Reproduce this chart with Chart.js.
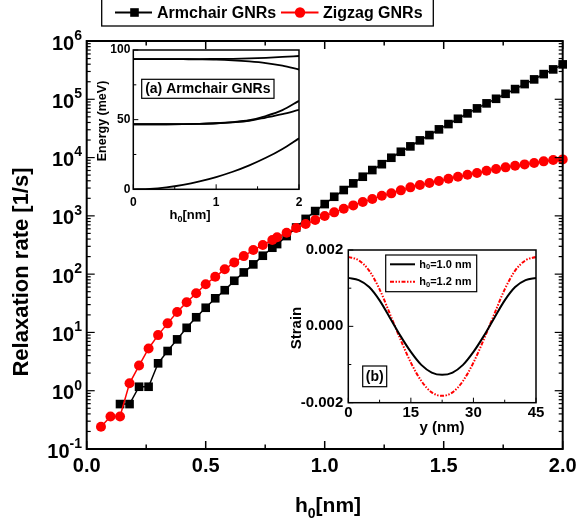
<!DOCTYPE html>
<html><head><meta charset="utf-8">
<script src="https://cdn.jsdelivr.net/npm/chart.js@4.4.1/dist/chart.umd.min.js"></script>
<style>
html,body{margin:0;padding:0;background:#fff;overflow:hidden}
#wrap{position:relative;width:577px;height:527px}
canvas{position:absolute}
</style></head>
<body><div id="wrap">
<canvas id="main" width="577" height="527" style="left:0;top:0;width:577px;height:527px"></canvas>
<canvas id="insA" width="215" height="190" style="left:95px;top:40px;width:215px;height:190px"></canvas>
<canvas id="insB" width="260" height="200" style="left:285px;top:240px;width:260px;height:200px"></canvas>
</div>
<script>
// ---------------- Main chart data ----------------
const hZig = [0.06,0.10,0.14,0.18,0.22,0.26,0.30,0.34,0.38,0.42,0.46,0.50,0.54,0.58,0.62,0.66,0.70,0.74,0.78,
  0.80,0.84,0.88,0.92,0.96,1.00,1.04,1.08,1.12,1.16,1.20,1.24,1.28,1.32,1.36,1.40,1.44,1.48,1.52,1.56,1.60,
  1.64,1.68,1.72,1.76,1.80,1.84,1.88,1.92,1.96,2.00];
const zigzag = [0.24,0.36,0.36,1.34,2.7,5.3,9.0,14.3,22.4,33,47,67,90,121,159,204,259,316,385,
  428,513,617,723,847,993,1148,1324,1513,1725,1943,2213,2432,2737,3082,3373,3652,3955,4333,4692,5075,
  5426,5940,6350,6790,7230,7640,8050,8610,9060,9310];
const hArm = [0.14,0.18,0.22,0.26,0.30,0.34,0.38,0.42,0.46,0.50,0.54,0.58,0.62,0.66,0.70,0.74,0.78,
  0.80,0.84,0.88,0.92,0.96,1.00,1.04,1.08,1.12,1.16,1.20,1.24,1.28,1.32,1.36,1.40,1.44,1.48,1.52,1.56,1.60,
  1.64,1.68,1.72,1.76,1.80,1.84,1.88,1.92,1.96,2.00];
const armchair = [0.59,0.59,1.17,1.17,2.95,4.8,7.6,12,18.2,26.5,38.5,53,77,107,147,207,284,
  328,450,631,887,1208,1592,2127,2773,3609,4692,6108,7700,9930,12580,15560,19720,24320,30470,37560,46300,57300,
  69800,85100,102000,124300,149600,182300,219400,270400,325600,396900];
const xTickVals = [0,0.5,1,1.5,2];
const xTickLabels = ['0.0','0.5','1.0','1.5','2.0'];
const xMinorVals = [0.25,0.75,1.25,1.75];
const yExponents = [-1,0,1,2,3,4,5,6];
const seriesNames = ['Armchair GNRs','Zigzag GNRs'];

// ---------------- Inset (a) data ----------------
const hA = [0,0.2,0.4,0.6,0.8,1.0,1.2,1.4,1.6,1.8,2.0];
const eTopUp   = [93.5,93.5,93.5,93.5,93.5,93.6,93.7,94.0,94.4,95.0,95.7];
const eTopDown = [93.5,93.5,93.5,93.4,93.3,93.1,92.6,91.8,90.6,88.7,86.0];
const eMidUp   = [46.7,46.7,46.7,46.8,47.0,47.4,48.2,49.6,52.6,56.8,63.5];
const eMidLow  = [46.7,46.7,46.7,46.8,47.0,47.4,48.1,49.2,51.5,54.0,57.0];
const eLow     = [0,0.3,1.4,3.2,5.7,8.8,12.6,17.2,22.6,29.0,36.6];

// ---------------- Inset (b) data ----------------
const yB = [0,2.5,5,7.5,10,12.5,15,17.5,20,22.5,25,27.5,30,32.5,35,37.5,40,42.5,45];
const strain10 = [0.00127,0.00121,0.00103,0.00068,0.00022,-0.00025,-0.00067,-0.00101,-0.00121,-0.00127,
  -0.00121,-0.00101,-0.00067,-0.00025,0.00022,0.00068,0.00103,0.00121,0.00127];
const strain12 = [0.00182,0.00173,0.00146,0.00097,0.00032,-0.00034,-0.00095,-0.00143,-0.00173,-0.00182,
  -0.00173,-0.00143,-0.00095,-0.00034,0.00032,0.00097,0.00146,0.00173,0.00182];
const bNames = ['1.0 nm','1.2 nm'];

const FONT = '"Liberation Sans", Arial, Helvetica, sans-serif';
const bf = s => 'bold ' + s + 'px ' + FONT;
const pts = (xs, ys) => xs.map((v, i) => ({x: v, y: ys[i]}));

function seg(ctx, x1, y1, x2, y2){ ctx.beginPath(); ctx.moveTo(x1,y1); ctx.lineTo(x2,y2); ctx.stroke(); }

function drawParts(ctx, parts, x, y, align){
  let w = 0;
  parts.forEach(p => { ctx.font = bf(p[1]); w += ctx.measureText(p[0]).width; });
  let cx = align === 'center' ? x - w/2 : (align === 'right' ? x - w : x);
  ctx.textAlign = 'left';
  parts.forEach(p => { ctx.font = bf(p[1]); ctx.fillText(p[0], cx, y + (p[2]||0)); cx += ctx.measureText(p[0]).width; });
}

// ---------------- Main decorations ----------------
const mainDeco = {
  id: 'mainDeco',
  afterDatasetsDraw(chart){
    const {ctx, chartArea: a, scales: {x, y}} = chart;
    ctx.save();
    ctx.strokeStyle = '#000'; ctx.fillStyle = '#000';
    ctx.lineWidth = 2;
    ctx.strokeRect(a.left, a.top, a.right - a.left, a.bottom - a.top);
    ctx.lineWidth = 1.5;
    xTickVals.forEach(v => { const p = x.getPixelForValue(v); seg(ctx,p,a.bottom,p,a.bottom-8); seg(ctx,p,a.top,p,a.top+8); });
    xMinorVals.forEach(v => { const p = x.getPixelForValue(v); seg(ctx,p,a.bottom,p,a.bottom-4.5); seg(ctx,p,a.top,p,a.top+4.5); });
    ctx.lineWidth = 1.2;
    yExponents.forEach(e => {
      const p = y.getPixelForValue(Math.pow(10, e));
      seg(ctx,a.left,p,a.left+8,p); seg(ctx,a.right,p,a.right-8,p);
      if (e < 6) for (let k = 2; k <= 9; k++) {
        const q = y.getPixelForValue(k * Math.pow(10, e));
        seg(ctx,a.left,q,a.left+4,q); seg(ctx,a.right,q,a.right-4,q);
      }
    });
    ctx.font = bf(20); ctx.textAlign = 'center'; ctx.textBaseline = 'middle';
    xTickVals.forEach((v, i) => ctx.fillText(xTickLabels[i], x.getPixelForValue(v), a.bottom + 17));
    yExponents.forEach(e => {
      const p = y.getPixelForValue(Math.pow(10, e));
      const ex = String(e);
      ctx.font = bf(14); const we = ctx.measureText(ex).width;
      const right = 82;
      ctx.textBaseline = 'middle';
      ctx.font = bf(20); ctx.textAlign = 'right'; ctx.fillText('10', right - we, p + 3);
      ctx.font = bf(14); ctx.textAlign = 'left'; ctx.fillText(ex, right - we, p - 5);
    });
    ctx.save();
    ctx.translate(22, 272); ctx.rotate(-Math.PI/2);
    ctx.font = bf(22); ctx.textAlign = 'center'; ctx.textBaseline = 'middle';
    ctx.fillText('Relaxation rate [1/s]', 0, 0);
    ctx.restore();
    ctx.textBaseline = 'alphabetic';
    drawParts(ctx, [['h',21,0],['0',14,6],['[nm]',21,0]], 328, 512, 'center');
    ctx.restore();
  },
  afterDraw(chart){
    const ctx = chart.ctx;
    ctx.save();
    ctx.strokeStyle = '#000'; ctx.lineWidth = 1.3;
    ctx.strokeRect(101.7, -1, 331.6, 27);
    ctx.lineWidth = 2;
    ctx.strokeStyle = '#000'; seg(ctx, 115, 12.5, 152, 12.5);
    ctx.fillStyle = '#000'; ctx.fillRect(130.2, 8.2, 8.6, 8.6);
    ctx.strokeStyle = '#ff0000'; seg(ctx, 281, 12.5, 318.5, 12.5);
    ctx.fillStyle = '#ff0000'; ctx.beginPath(); ctx.arc(300, 12.5, 5.2, 0, Math.PI*2); ctx.fill();
    ctx.fillStyle = '#000'; ctx.font = bf(16); ctx.textAlign = 'left'; ctx.textBaseline = 'middle';
    ctx.fillText(seriesNames[0], 157, 13.5);
    ctx.fillText(seriesNames[1], 323, 13.5);
    ctx.restore();
  }
};

new Chart(document.getElementById('main'), {
  type: 'line',
  data: { datasets: [
    { label: seriesNames[1], data: pts(hZig, zigzag), borderColor: '#ff0000', backgroundColor: '#ff0000',
      pointStyle: 'circle', pointRadius: 5, pointBorderWidth: 0, borderWidth: 1.5, order: 0, clip: false },
    { label: seriesNames[0], data: pts(hArm, armchair), borderColor: '#000', backgroundColor: '#000',
      pointStyle: 'rect', pointRadius: 6.1, pointBorderWidth: 0, borderWidth: 1.5, order: 1, clip: false }
  ]},
  options: {
    responsive: false, animation: false, devicePixelRatio: 1,
    layout: { padding: { left: 86.7, top: 41, right: 14.3, bottom: 78 } },
    plugins: { legend: { display: false }, tooltip: { enabled: false } },
    scales: {
      x: { type: 'linear', min: 0, max: 2, display: false },
      y: { type: 'logarithmic', min: 0.1, max: 1e6, display: false }
    }
  },
  plugins: [mainDeco]
});

// ---------------- Inset (a) ----------------
const decoA = {
  id: 'decoA',
  afterDatasetsDraw(chart){
    const {ctx, chartArea: a, scales: {x, y}} = chart;
    ctx.save();
    ctx.strokeStyle = '#000'; ctx.fillStyle = '#000';
    ctx.lineWidth = 1.5;
    ctx.strokeRect(a.left, a.top, a.right - a.left, a.bottom - a.top);
    ctx.lineWidth = 1;
    [0,1,2].forEach(v => { const p = x.getPixelForValue(v); seg(ctx,p,a.bottom,p,a.bottom-5); });
    [0.5,1.5].forEach(v => { const p = x.getPixelForValue(v); seg(ctx,p,a.bottom,p,a.bottom-3); });
    [0,50,100].forEach(v => { const p = y.getPixelForValue(v); seg(ctx,a.left,p,a.left+5,p); });
    [25,75].forEach(v => { const p = y.getPixelForValue(v); seg(ctx,a.left,p,a.left+3,p); });
    ctx.font = bf(12); ctx.textBaseline = 'middle'; ctx.textAlign = 'right';
    [0,50,100].forEach(v => ctx.fillText(String(v), a.left - 3, y.getPixelForValue(v)));
    ctx.textAlign = 'center';
    [0,1,2].forEach(v => ctx.fillText(String(v), x.getPixelForValue(v), a.bottom + 13));
    ctx.textBaseline = 'alphabetic';
    drawParts(ctx, [['h',13,0],['0',9,3],['[nm]',13,0]], 95, 179, 'center');
    ctx.save();
    ctx.translate(8, 81); ctx.rotate(-Math.PI/2);
    ctx.font = bf(12.5); ctx.textAlign = 'center'; ctx.textBaseline = 'middle';
    ctx.fillText('Energy (meV)', 0, 0);
    ctx.restore();
    ctx.lineWidth = 1.2;
    ctx.fillStyle = '#fff'; ctx.fillRect(46.7, 39.3, 132.3, 19);
    ctx.strokeRect(46.7, 39.3, 132.3, 19);
    ctx.fillStyle = '#000'; ctx.font = bf(14); ctx.textAlign = 'center'; ctx.textBaseline = 'middle';
    ctx.fillText('(a) Armchair GNRs', 112.8, 49.3);
    ctx.restore();
  }
};
const lineA = (arr) => ({ data: pts(hA, arr), borderColor: '#000', borderWidth: 1.8, pointRadius: 0,
  cubicInterpolationMode: 'monotone', fill: false });
new Chart(document.getElementById('insA'), {
  type: 'line',
  data: { datasets: [lineA(eTopUp), lineA(eTopDown), lineA(eMidUp), lineA(eMidLow), lineA(eLow)] },
  options: {
    responsive: false, animation: false, devicePixelRatio: 1,
    layout: { padding: { left: 38.3, top: 10, right: 11, bottom: 40.7 } },
    plugins: { legend: { display: false }, tooltip: { enabled: false } },
    scales: {
      x: { type: 'linear', min: 0, max: 2, display: false },
      y: { type: 'linear', min: 0, max: 100, display: false }
    }
  },
  plugins: [decoA]
});

// ---------------- Inset (b) ----------------
const decoB = {
  id: 'decoB',
  afterDatasetsDraw(chart){
    const {ctx, chartArea: a, scales: {x, y}} = chart;
    ctx.save();
    ctx.strokeStyle = '#000'; ctx.fillStyle = '#000';
    ctx.lineWidth = 1.5;
    ctx.strokeRect(a.left, a.top, a.right - a.left, a.bottom - a.top);
    ctx.lineWidth = 1;
    [0,15,30,45].forEach(v => { const p = x.getPixelForValue(v); seg(ctx,p,a.bottom,p,a.bottom-5); });
    [7.5,22.5,37.5].forEach(v => { const p = x.getPixelForValue(v); seg(ctx,p,a.bottom,p,a.bottom-3); });
    [-0.002,0,0.002].forEach(v => { const p = y.getPixelForValue(v); seg(ctx,a.left,p,a.left+5,p); });
    [-0.001,0.001].forEach(v => { const p = y.getPixelForValue(v); seg(ctx,a.left,p,a.left+3,p); });
    ctx.font = bf(15); ctx.textBaseline = 'middle'; ctx.textAlign = 'right';
    [['0.002',0.002],['0.000',0],['-0.002',-0.002]].forEach(t => ctx.fillText(t[0], a.left - 5, y.getPixelForValue(t[1])));
    ctx.textAlign = 'center';
    [0,15,30,45].forEach(v => ctx.fillText(String(v), x.getPixelForValue(v), a.bottom + 10));
    ctx.fillText('y (nm)', 157, 188);
    ctx.save();
    ctx.translate(12, 88); ctx.rotate(-Math.PI/2);
    ctx.fillText('Strain', 0, 0);
    ctx.restore();
    ctx.lineWidth = 1.2;
    ctx.strokeRect(100.7, 15, 91, 36.7);
    ctx.lineWidth = 2; ctx.strokeStyle = '#000'; ctx.setLineDash([]);
    seg(ctx, 105, 24.3, 130, 24.3);
    ctx.strokeStyle = '#ff0000'; ctx.setLineDash([4,1.5,1.5,1.5,1.5,1.5]);
    seg(ctx, 105, 41.7, 130, 41.7);
    ctx.setLineDash([]);
    ctx.textBaseline = 'middle';
    drawParts(ctx, [['h',11,0],['0',7.5,2.5],['=' + bNames[0],11,0]], 134.3, 24.8, 'left');
    drawParts(ctx, [['h',11,0],['0',7.5,2.5],['=' + bNames[1],11,0]], 134.3, 42.2, 'left');
    ctx.strokeStyle = '#000'; ctx.lineWidth = 1.2;
    ctx.strokeRect(77.7, 126, 24, 20.7);
    ctx.font = bf(14); ctx.textAlign = 'center';
    ctx.fillText('(b)', 89.7, 136.8);
    ctx.restore();
  }
};
new Chart(document.getElementById('insB'), {
  type: 'line',
  data: { datasets: [
    { data: pts(yB, strain10), borderColor: '#000', borderWidth: 2, pointRadius: 0, cubicInterpolationMode: 'monotone' },
    { data: pts(yB, strain12), borderColor: '#ff0000', borderWidth: 2, pointRadius: 0, cubicInterpolationMode: 'monotone',
      borderDash: [4,1.5,1.5,1.5,1.5,1.5] }
  ]},
  options: {
    responsive: false, animation: false, devicePixelRatio: 1,
    layout: { padding: { left: 63.3, top: 10, right: 9, bottom: 37.3 } },
    plugins: { legend: { display: false }, tooltip: { enabled: false } },
    scales: {
      x: { type: 'linear', min: 0, max: 45, display: false },
      y: { type: 'linear', min: -0.002, max: 0.002, display: false }
    }
  },
  plugins: [decoB]
});
</script>
</body></html>
